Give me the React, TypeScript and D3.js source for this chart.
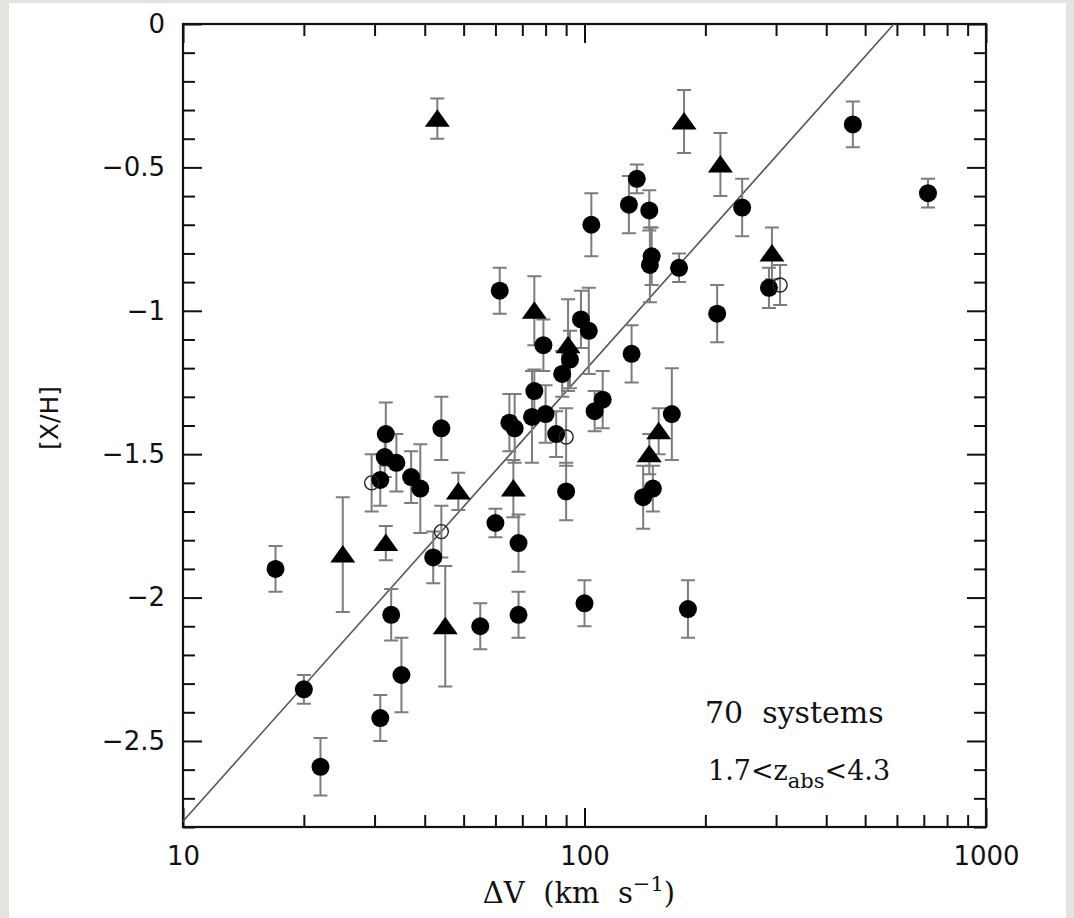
import React, { useEffect, useRef } from 'react';
import * as d3 from 'd3';

// each point: [ΔV (km s^-1), [X/H], error]
const filledCircles = [
    [17, -1.90, 0.08], [20, -2.32, 0.05], [22, -2.59, 0.10], [31, -2.42, 0.08],
    [33, -2.06, 0.09], [35, -2.27, 0.13], [31, -1.59, 0.09], [32, -1.43, 0.11],
    [31.8, -1.51, 0.07], [34, -1.53, 0.10], [37, -1.58, 0.09], [39, -1.62, 0.155],
    [44, -1.41, 0.11], [42, -1.86, 0.09], [60, -1.74, 0.05], [61.5, -0.93, 0.08],
    [65, -1.39, 0.10], [67, -1.41, 0.12], [68.5, -1.81, 0.10], [68.5, -2.06, 0.08],
    [55, -2.10, 0.08], [75, -1.28, 0.075], [74, -1.37, 0.16], [79, -1.12, 0.09],
    [80, -1.36, 0.10], [85, -1.43, 0.08], [88, -1.22, 0.08], [92, -1.17, 0.10],
    [90, -1.63, 0.10], [98, -1.03, 0.10], [102.5, -1.07, 0.15], [104, -0.70, 0.11],
    [100, -2.02, 0.08], [106, -1.35, 0.07], [111, -1.31, 0.10], [131, -1.15, 0.10],
    [129, -0.63, 0.10], [135, -0.54, 0.05], [140, -1.65, 0.11], [145, -0.65, 0.07],
    [147, -0.81, 0.10], [145.5, -0.84, 0.13], [148, -1.62, 0.08], [165, -1.36, 0.16],
    [172, -0.85, 0.05], [181, -2.04, 0.10], [214, -1.01, 0.10], [247, -0.64, 0.10],
    [288, -0.92, 0.07], [466, -0.35, 0.08], [717, -0.59, 0.05],
];

const triangles = [
    [43, -0.33, 0.07], [177, -0.34, 0.11], [218, -0.49, 0.11], [293, -0.80, 0.09],
    [75, -1.00, 0.12], [91, -1.12, 0.16], [66.5, -1.62, 0.10], [48.5, -1.63, 0.065],
    [32, -1.81, 0.06], [25, -1.85, 0.20], [45, -2.10, 0.21], [153, -1.42, 0.08],
    [145, -1.50, 0.07],
];

const openCircles = [
    [29.5, -1.60, 0.10], [44, -1.77, 0.09], [90, -1.44, 0.10], [307, -0.91, 0.07],
];

const xMajorTicks = [10, 100, 1000];
const yMajorTicks = [0, -0.5, -1, -1.5, -2, -2.5];

// fitted relation [X/H] = a log(ΔV) + b
const fitSlope = 1.57;
const fitIntercept = -4.35;

const WIDTH = 1074;
const HEIGHT = 918;
const PLOT = { left: 183, right: 986, top: 24, bottom: 827 };

const TICK_FONT = '"DejaVu Sans", sans-serif';
const TEXT_FONT = '"DejaVu Serif", serif';
const BAR_COLOR = '#7d7d7d';

function formatY(d)
{
    return d === 0 ? '0' : '\u2212' + Math.abs(d);
}

function drawFrame(svg, xScale, yScale)
{
    const minorX = xScale.ticks().filter((t) => !xMajorTicks.includes(t));
    const minorY = yScale.ticks(28).filter((t) => !yMajorTicks.some((m) => Math.abs(m - t) < 1e-6));

    const axes = [
        { axis: d3.axisBottom, at: `translate(0,${ PLOT.bottom })`, scale: xScale, major: xMajorTicks, minor: minorX, labels: true },
        { axis: d3.axisTop, at: `translate(0,${ PLOT.top })`, scale: xScale, major: xMajorTicks, minor: minorX, labels: false },
        { axis: d3.axisLeft, at: `translate(${ PLOT.left },0)`, scale: yScale, major: yMajorTicks, minor: minorY, labels: true },
        { axis: d3.axisRight, at: `translate(${ PLOT.right },0)`, scale: yScale, major: yMajorTicks, minor: minorY, labels: false },
    ];

    axes.forEach((a) =>
    {
        const isY = a.scale === yScale;
        const major = svg.append('g')
            .attr('transform', a.at)
            .call(a.axis(a.scale)
                .tickValues(a.major)
                .tickSize(-19)
                .tickPadding(isY ? 18 : 20)
                .tickFormat(a.labels ? (isY ? formatY : (d) => String(d)) : () => ''));
        major.select('.domain').remove();
        major.selectAll('line').attr('stroke', '#111').attr('stroke-width', 2);
        major.selectAll('text')
            .attr('font-family', TICK_FONT)
            .attr('font-size', 26)
            .attr('fill', '#111');

        const minor = svg.append('g')
            .attr('transform', a.at)
            .call(a.axis(a.scale).tickValues(a.minor).tickSize(-12).tickFormat(() => ''));
        minor.select('.domain').remove();
        minor.selectAll('line').attr('stroke', '#111').attr('stroke-width', 2);
    });

    svg.append('rect')
        .attr('x', PLOT.left)
        .attr('y', PLOT.top)
        .attr('width', PLOT.right - PLOT.left)
        .attr('height', PLOT.bottom - PLOT.top)
        .attr('fill', 'none')
        .attr('stroke', '#111')
        .attr('stroke-width', 2.2);
}

function drawFit(svg, xScale, yScale)
{
    const xEnd = Math.pow(10, -fitIntercept / fitSlope);
    const pts = [10, xEnd].map((v) => [v, fitSlope * Math.log10(v) + fitIntercept]);
    svg.append('path')
        .attr('d', d3.line().x((d) => xScale(d[0])).y((d) => yScale(d[1]))(pts))
        .attr('stroke', '#555')
        .attr('stroke-width', 1.6)
        .attr('fill', 'none');
}

function drawErrorBars(svg, data, xScale, yScale)
{
    const g = svg.append('g')
        .attr('stroke', BAR_COLOR)
        .attr('stroke-width', 2)
        .attr('fill', 'none');
    data.forEach(([v, xh, err]) =>
    {
        const x = xScale(v);
        const y0 = yScale(xh + err);
        const y1 = yScale(xh - err);
        g.append('path')
            .attr('d', `M${ x },${ y0 }V${ y1 }M${ x - 7 },${ y0 }H${ x + 7 }M${ x - 7 },${ y1 }H${ x + 7 }`);
    });
}

function drawMarkers(svg, xScale, yScale)
{
    svg.append('g')
        .selectAll('circle')
        .data(filledCircles)
        .join('circle')
        .attr('cx', (d) => xScale(d[0]))
        .attr('cy', (d) => yScale(d[1]))
        .attr('r', 9)
        .attr('fill', '#000');

    svg.append('g')
        .selectAll('circle')
        .data(openCircles)
        .join('circle')
        .attr('cx', (d) => xScale(d[0]))
        .attr('cy', (d) => yScale(d[1]))
        .attr('r', 7)
        .attr('fill', 'none')
        .attr('stroke', '#222')
        .attr('stroke-width', 1.4);

    svg.append('g')
        .selectAll('path')
        .data(triangles)
        .join('path')
        .attr('d', (d) =>
        {
            const x = xScale(d[0]);
            const y = yScale(d[1]);
            return `M${ x - 12.5 },${ y + 8 }L${ x + 12.5 },${ y + 8 }L${ x },${ y - 9.5 }Z`;
        })
        .attr('fill', '#000');
}

function drawLabels(svg)
{
    svg.append('text')
        .attr('transform', 'translate(58,418) rotate(-90)')
        .attr('text-anchor', 'middle')
        .attr('font-family', TICK_FONT)
        .attr('font-size', 25)
        .attr('fill', '#111')
        .text('[X/H]');

    const xl = svg.append('text')
        .attr('x', 579)
        .attr('y', 903)
        .attr('text-anchor', 'middle')
        .attr('font-family', TEXT_FONT)
        .attr('font-size', 29)
        .attr('fill', '#111')
        .attr('xml:space', 'preserve');
    xl.append('tspan').text('\u0394V  (km  s');
    xl.append('tspan').attr('dy', -12).attr('font-size', 21).text('\u22121');
    xl.append('tspan').attr('dy', 12).text(')');

    svg.append('text')
        .attr('x', 705)
        .attr('y', 723)
        .attr('font-family', TEXT_FONT)
        .attr('font-size', 30)
        .attr('fill', '#111')
        .attr('xml:space', 'preserve')
        .text('70  systems');

    const z = svg.append('text')
        .attr('x', 708)
        .attr('y', 780)
        .attr('font-family', TEXT_FONT)
        .attr('font-size', 27)
        .attr('fill', '#111');
    z.append('tspan').text('1.7<z');
    z.append('tspan').attr('dy', 8).attr('font-size', 21).text('abs');
    z.append('tspan').attr('dy', -8).text('<4.3');
}

export default function App()
{
    const svgRef = useRef(null);

    useEffect(() =>
    {
        const svg = d3.select(svgRef.current);
        svg.selectAll('*').remove();

        svg.append('rect').attr('width', WIDTH).attr('height', HEIGHT).attr('fill', '#e6e3de');
        svg.append('rect').attr('x', 9).attr('y', 3).attr('width', 1057).attr('height', HEIGHT - 3).attr('fill', '#fff');

        const xScale = d3.scaleLog().domain([10, 1000]).range([PLOT.left, PLOT.right]);
        const yScale = d3.scaleLinear().domain([0, -2.8]).range([PLOT.top, PLOT.bottom]);

        drawFrame(svg, xScale, yScale);
        drawFit(svg, xScale, yScale);
        drawErrorBars(svg, [...filledCircles, ...triangles, ...openCircles], xScale, yScale);
        drawMarkers(svg, xScale, yScale);
        drawLabels(svg);
    }, []);

    return (
        <svg
            ref={ svgRef }
            width={ WIDTH }
            height={ HEIGHT }
            style={ { position: 'absolute', left: 0, top: 0, display: 'block' } }
        />
    );
}
